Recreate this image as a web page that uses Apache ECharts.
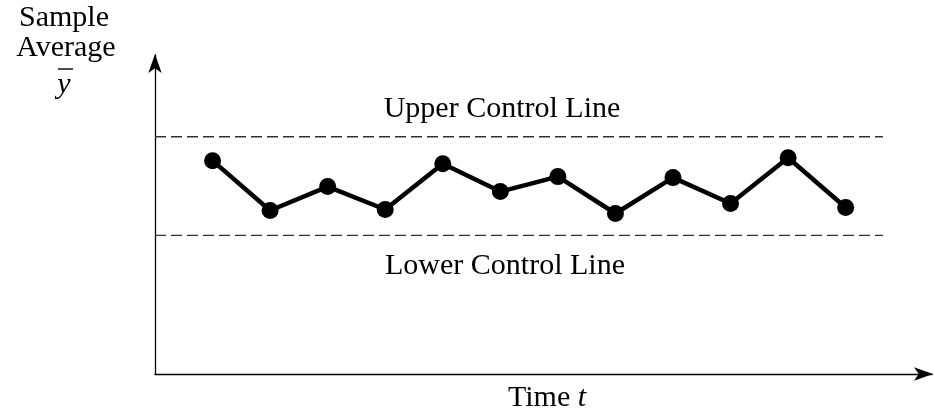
<!DOCTYPE html>
<html><head><meta charset="utf-8">
<script src="https://cdn.jsdelivr.net/npm/echarts@6/dist/echarts.min.js"></script>
<style>html,body{margin:0;padding:0;background:#fff}#c{width:935px;height:418px}</style>
</head><body><div id="c"></div>
<script>
const times = [1,2,3,4,5,6,7,8,9,10,11,12];
const sampleAverages = [214,164,188,165,211,183,198,161,197,171,217,167];
const upperControl = 238;
const lowerControl = 139;
const controlStart = 0;
const controlEnd = 12.65;

const serif = '"Liberation Serif","DejaVu Serif",serif';
const fs = 30;
const chart = echarts.init(document.getElementById('c'));
chart.setOption({
  animation:false,
  backgroundColor:'#fff',
  grid:{left:155,right:3,top:55,bottom:44},
  xAxis:{type:'value',min:0,max:13.5,
    axisLine:{show:true,symbol:['none','arrow'],symbolSize:[10,19],symbolOffset:[0,1],lineStyle:{color:'#000',width:1.3}},
    axisTick:{show:false},axisLabel:{show:false},splitLine:{show:false}},
  yAxis:{type:'value',min:0,max:320,
    axisLine:{show:true,symbol:['none','arrow'],symbolSize:[10,19],symbolOffset:[0,1],lineStyle:{color:'#000',width:1.3}},
    axisTick:{show:false},axisLabel:{show:false},splitLine:{show:false}},
  series:[
    {type:'line',data:[[controlStart,upperControl],[controlEnd,upperControl]],symbol:'none',
     lineStyle:{color:'#333',width:1.3,type:[11,5]},silent:true},
    {type:'line',data:[[controlStart,lowerControl],[controlEnd,lowerControl]],symbol:'none',
     lineStyle:{color:'#333',width:1.3,type:[11,5]},silent:true},
    {type:'line',data:times.map((t,i)=>[t,sampleAverages[i]]),symbol:'circle',symbolSize:17,
     lineStyle:{color:'#000',width:4.5},itemStyle:{color:'#000'}}
  ],
  graphic:[
    {type:'text',style:{text:'Sample',font:fs+'px '+serif,fill:'#000',x:64,y:18,textAlign:'center',textVerticalAlign:'middle'}},
    {type:'text',style:{text:'Average',font:fs+'px '+serif,fill:'#000',x:66,y:48,textAlign:'center',textVerticalAlign:'middle'}},
    {type:'text',style:{text:'y',font:'italic '+fs+'px '+serif,fill:'#000',x:64,y:85,textAlign:'center',textVerticalAlign:'middle'}},
    {type:'line',shape:{x1:58,y1:69,x2:73,y2:69},style:{stroke:'#000',lineWidth:1.4}},
    {type:'text',style:{text:'Upper Control Line',font:fs+'px '+serif,fill:'#000',x:502,y:109,textAlign:'center',textVerticalAlign:'middle'}},
    {type:'text',style:{text:'Lower Control Line',font:fs+'px '+serif,fill:'#000',x:505,y:266,textAlign:'center',textVerticalAlign:'middle'}},
    {type:'text',style:{rich:{a:{font:fs+'px '+serif,fill:'#000'},b:{font:'italic '+fs+'px '+serif,fill:'#000'}},text:'{a|Time }{b|t}',x:547,y:398,textAlign:'center',textVerticalAlign:'middle'}}
  ]
});
</script></body></html>
